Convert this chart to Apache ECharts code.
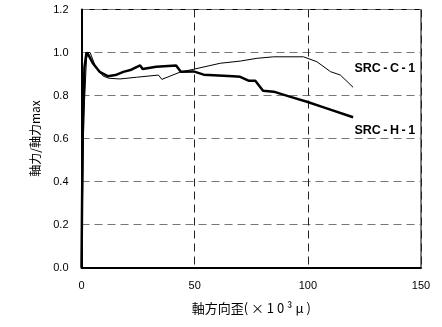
<!DOCTYPE html>
<html><head><meta charset="utf-8">
<script src="https://cdn.jsdelivr.net/npm/echarts@6/dist/echarts.min.js"></script>
<style>html,body{margin:0;padding:0;background:#fff}#c{width:442px;height:327px}</style>
</head><body><div id="c"></div>
<script>
const xTicks = [0, 50, 100, 150];
const yTicks = [0.0, 0.2, 0.4, 0.6, 0.8, 1.0, 1.2];
const srcH1 = [[0,0],[0.5,0.6],[1.3,0.93],[2.2,1.0],[3,0.99],[5,0.95],[8,0.91],[11.6,0.89],[15,0.895],[18.5,0.91],[22,0.92],[25.9,0.94],[27,0.923],[33,0.934],[41.8,0.94],[43.9,0.91],[49.5,0.912],[54,0.897],[67,0.89],[70.1,0.887],[73.8,0.869],[76.8,0.869],[80.2,0.822],[84.9,0.818],[92,0.795],[99.6,0.771],[107,0.745],[120,0.699]];
const srcC1 = [[0,0],[1,0.7],[2.2,0.97],[2.9,1.0],[3.8,1.0],[6,0.94],[9.6,0.89],[12.2,0.88],[17,0.877],[24.4,0.885],[34,0.895],[35.5,0.875],[43.6,0.909],[49.5,0.922],[61.3,0.95],[70.1,0.96],[77.5,0.973],[84.9,0.98],[98.1,0.98],[104,0.957],[110,0.911],[114.4,0.895],[120,0.838]];
const labelC = {name:'SRC-C-1', coord:[134, 0.925]};
const labelH = {name:'SRC-H-1', coord:[134, 0.635]};
const chart = echarts.init(document.getElementById('c'));
const lab = t => ({show:true, formatter:t.name.split('-').join('\u2009-\u2009'), color:'#000', fontFamily:'Liberation Sans, Arial', fontWeight:'bold', fontSize:12.5});
chart.setOption({
  animation:false,
  grid:{left:81.5, right:21, top:9.5, bottom:59.5, show:true, borderColor:'#000', borderWidth:1},
  xAxis:{type:'value', min:0, max:150, interval:50,
    name:'軸方向歪( × 1 0 ³ μ )', nameLocation:'middle', nameGap:34,
    nameTextStyle:{fontFamily:'Noto Sans CJK JP', fontSize:13, color:'#000'},
    axisLine:{show:true, onZero:false, lineStyle:{color:'#000', width:2}},
    axisTick:{show:false},
    axisLabel:{margin:13, color:'#000', fontFamily:'Liberation Sans, Arial', fontSize:11, formatter:v=>xTicks.includes(v)?String(v):''},
    splitLine:{show:true, lineStyle:{color:'#222', type:[8,5], width:1}}
  },
  yAxis:{type:'value', min:0, max:1.2, interval:0.2,
    name:'軸力/軸力max', nameLocation:'middle', nameGap:40, nameRotate:90,
    nameTextStyle:{fontFamily:'Noto Sans CJK JP', fontSize:12, color:'#000'},
    axisLine:{show:true, lineStyle:{color:'#000', width:2}},
    axisTick:{show:false},
    axisLabel:{margin:13, color:'#000', fontFamily:'Liberation Sans, Arial', fontSize:11, formatter:v=>{const t=yTicks.find(a=>Math.abs(a-v)<1e-6);return t===undefined?'':t.toFixed(1);}},
    splitLine:{show:true, lineStyle:{color:'#777', type:[8,5], width:1.2}}
  },
  series:[
    {type:'line', data:srcC1, showSymbol:false, symbol:'none', lineStyle:{color:'#000', width:1}, z:3,
     markPoint:{symbol:'circle', symbolSize:0, data:[labelC], label:lab(labelC)}},
    {type:'line', data:srcH1, showSymbol:false, symbol:'none', lineStyle:{color:'#000', width:2.5}, z:4,
     markPoint:{symbol:'circle', symbolSize:0, data:[labelH], label:lab(labelH)}}
  ]
});
</script></body></html>
